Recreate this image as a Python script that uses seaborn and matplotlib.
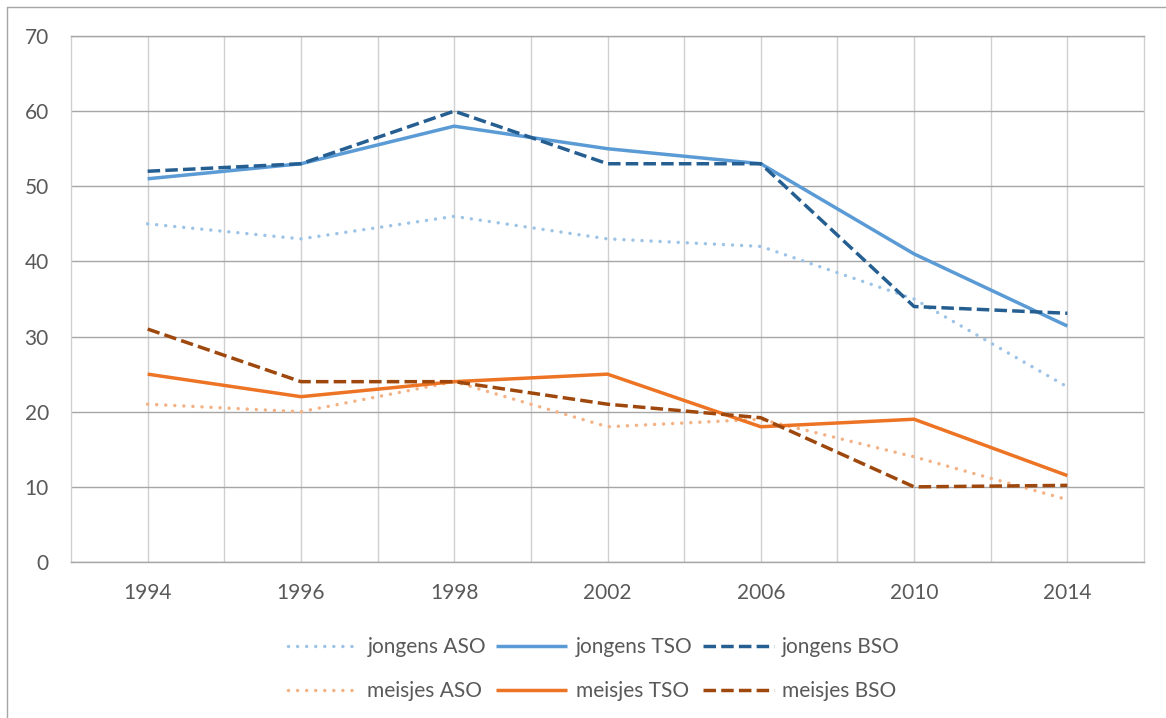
import numpy as np
import pandas as pd
import matplotlib.pyplot as plt
from matplotlib.lines import Line2D
import seaborn as sns

# gegevens
jaren = ['1994', '1996', '1998', '2002', '2006', '2010', '2014']
jongens_aso = [45, 43, 46, 43, 42, 35, 23.3]
jongens_tso = [51, 53, 58, 55, 53, 41, 31.4]
jongens_bso = [52, 53, 60, 53, 53, 34, 33.1]
meisjes_aso = [21, 20, 24, 18, 19, 14, 8.3]
meisjes_tso = [25, 22, 24, 25, 18, 19, 11.5]
meisjes_bso = [31, 24, 24, 21, 19.2, 10, 10.2]

reeksen = ['jongens ASO', 'jongens TSO', 'jongens BSO',
           'meisjes ASO', 'meisjes TSO', 'meisjes BSO']
waarden = [jongens_aso, jongens_tso, jongens_bso,
           meisjes_aso, meisjes_tso, meisjes_bso]

kleuren = {'jongens ASO': '#9DC3E6', 'jongens TSO': '#5B9BD5',
           'jongens BSO': '#255E91', 'meisjes ASO': '#F4B183',
           'meisjes TSO': '#ED7424', 'meisjes BSO': '#9E480E'}
stip = (0, (0.01, 2.6))
streep = (0, (3.6, 1.5))
stijlen = {'jongens ASO': stip, 'jongens TSO': '-', 'jongens BSO': streep,
           'meisjes ASO': stip, 'meisjes TSO': '-', 'meisjes BSO': streep}

pos = np.arange(len(jaren))
df = pd.DataFrame({
    'pos': np.tile(pos, len(reeksen)),
    'jaar': np.tile(jaren, len(reeksen)),
    'reeks': np.repeat(reeksen, len(jaren)),
    'waarde': np.concatenate(waarden),
})

sns.set_style('white')
plt.rcParams['font.family'] = ['Lato', 'DejaVu Sans']
tekstkleur = '#595959'

fig = plt.figure(figsize=(11.66, 7.18), dpi=100)
ax = fig.add_axes([71 / 1166, 156 / 718, 1073 / 1166, 526 / 718])

for r in reeksen:
    sub = df[df['reeks'] == r]
    cap = 'round' if stijlen[r] is stip else 'butt'
    sns.lineplot(data=sub, x='pos', y='waarde', color=kleuren[r],
                 linestyle=stijlen[r], lw=2.5, dash_capstyle=cap,
                 solid_capstyle='butt', solid_joinstyle='round',
                 errorbar=None, label=r, ax=ax)

ax.set_xlim(-0.5, len(jaren) - 0.5)
ax.set_ylim(0, 70)
ax.set_yticks(np.arange(0, 71, 10))
ax.set_xticks(pos, jaren)
ax.set_xticks(np.arange(0.5, len(jaren) - 1, 1), minor=True)
ax.set_axisbelow(True)
ax.grid(axis='x', which='both', color='#D0D0D0', lw=1)
ax.grid(axis='y', which='major', color='#A6A6A6', lw=1)
ax.tick_params(axis='both', which='both', length=0, labelsize=15,
               labelcolor=tekstkleur)
ax.tick_params(axis='y', pad=16)
ax.tick_params(axis='x', pad=15)
ax.set_xlabel('')
ax.set_ylabel('')
for kant in ['left', 'right']:
    ax.spines[kant].set_color('#D0D0D0')
for kant in ['top', 'bottom']:
    ax.spines[kant].set_color('#A6A6A6')
for sp in ax.spines.values():
    sp.set_linewidth(1)

# legenda: rij per geslacht, kolom-vulling daarom omgezet
handles, labels = ax.get_legend_handles_labels()
if ax.get_legend() is not None:
    ax.get_legend().remove()
volgorde = [0, 3, 1, 4, 2, 5]
fig.legend([handles[i] for i in volgorde], [labels[i] for i in volgorde],
           ncol=3, loc='center', bbox_to_anchor=(594 / 1166, 1 - 669 / 718),
           frameon=False, fontsize=15, handlelength=3.4, handletextpad=0.4,
           columnspacing=0.5, labelspacing=1.15, labelcolor=tekstkleur)

# rand van het grafiekvak
fig.add_artist(Line2D([7 / 1166, 1], [1 - 7 / 718, 1 - 7 / 718],
                      transform=fig.transFigure, color='#A6A6A6', lw=1))
fig.add_artist(Line2D([7 / 1166, 7 / 1166], [0, 1 - 7 / 718],
                      transform=fig.transFigure, color='#A6A6A6', lw=1))

fig.savefig('out.png', dpi=100)
